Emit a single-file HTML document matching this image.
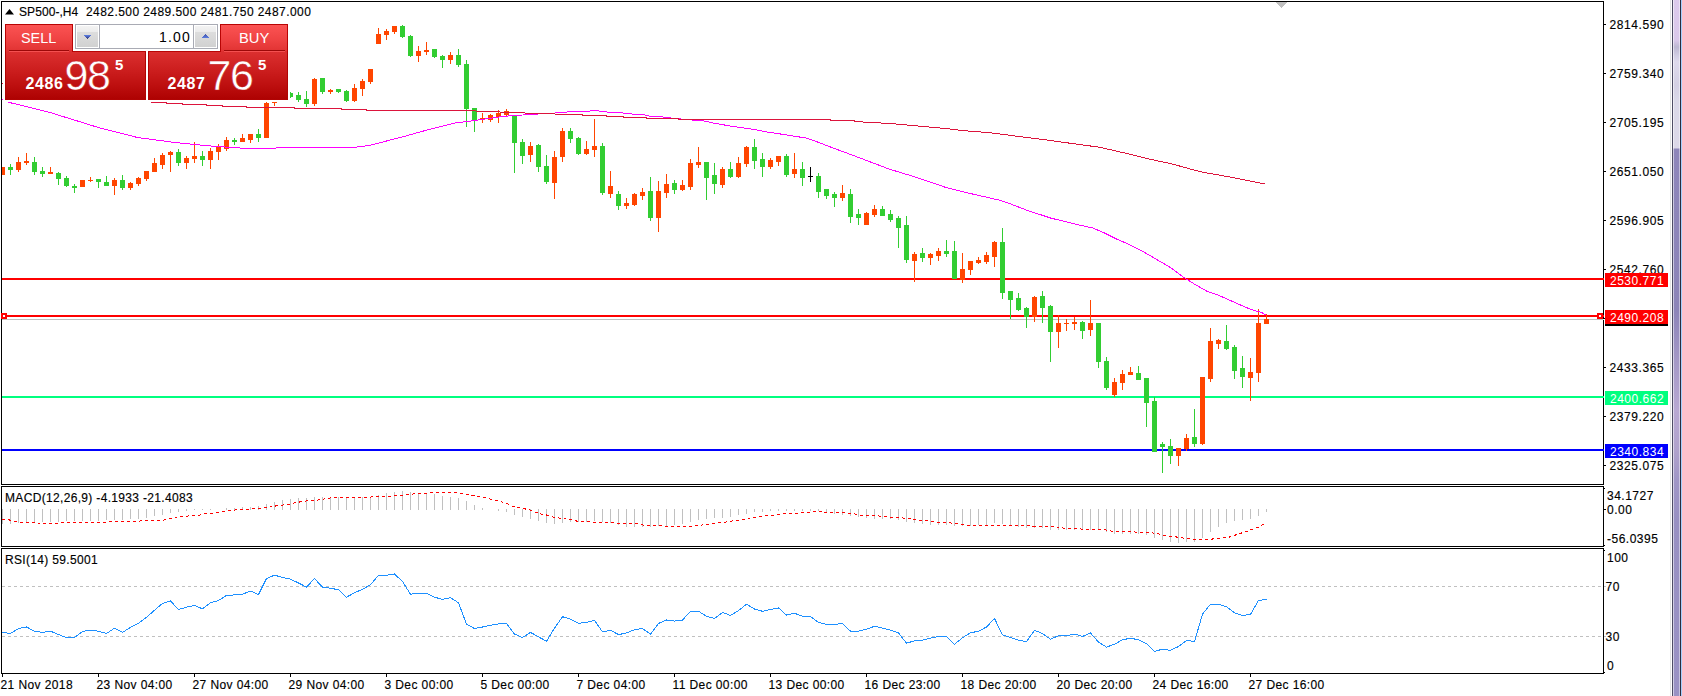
<!DOCTYPE html>
<html lang="en"><head><meta charset="utf-8"><title>SP500-,H4</title>
<style>
html,body{margin:0;padding:0;background:#fff;}
body{width:1682px;height:696px;overflow:hidden;}
#root{position:relative;width:1682px;height:696px;overflow:hidden;background:#fff;font-family:"Liberation Sans",sans-serif;}
#chart{position:absolute;left:0;top:0;}
.t{position:absolute;white-space:nowrap;color:#000;-webkit-text-stroke:0.15px #000;font-size:12px;line-height:14px;font-family:"Liberation Sans",sans-serif;}
.ttl{letter-spacing:0.35px;}
.ax{letter-spacing:0.6px;}
.ax2{letter-spacing:0.5px;}
.ind{letter-spacing:0.33px;}
.tm{letter-spacing:0.4px;}
.tag{position:absolute;left:1605px;width:63px;box-sizing:content-box;font-size:12px;letter-spacing:0.5px;text-indent:5px;white-space:nowrap;font-family:"Liberation Sans",sans-serif;}
#rborder{position:absolute;left:1670px;top:0;width:12px;height:696px;
 background:linear-gradient(to bottom,#DCCAEC 0,#DAC8EA 40px,#BDB8D2 47px,#D2CEE4 56px,#DEDAEC 62px,#D4D0E4 85px,#DAD8E8 100px,#DCD8E8 148px,#8E86BA 149px,#8C84B8 310px,#A498C6 360px,#B8A8D2 410px,#B0A2CC 450px,#A096C6 480px,#9890C2 520px,#9A92C4 696px);}
#rborder i{position:absolute;top:0;height:696px;width:1px;display:block;}
/* trade panel */
#panel{position:absolute;left:0;top:0;width:300px;height:104px;}
#panel div{position:absolute;box-sizing:border-box;}
.tab{background:linear-gradient(to bottom,#FB5353 0,#F04444 50%,#E03232 100%);border:1px solid #B80404;border-bottom:none;}
.low{background:linear-gradient(to bottom,#DC3030 0,#CC1E1E 40%,#BE1010 70%,#AE0202 100%);border:1px solid #B00404;border-top:none;}
.ltop{height:1px;background:#B80606;}
.sep{height:2px;background:linear-gradient(to bottom,#9C0808 0,#9C0808 50%,#F45050 50%,#F45050 100%);}
.btn{padding:1px;background:linear-gradient(to bottom,#F3F3F3 0,#ECECEC 27%,#DDDDDD 30%,#D1D1D1 100%) content-box,#fff;}
.pt{color:#fff;white-space:nowrap;font-family:"Liberation Sans",sans-serif;}
.sx{transform-origin:0 0;}

</style></head>
<body>
<div id="root">
<svg id="chart" width="1682" height="696" viewBox="0 0 1682 696" shape-rendering="crispEdges">
<rect x="2" y="319" width="1601" height="1" fill="#C0C0C0"/>
<rect x="2" y="278" width="1601" height="2" fill="#FF0000"/>
<rect x="2" y="315" width="1601" height="2" fill="#FF0000"/>
<rect x="2" y="396" width="1601" height="2" fill="#00FF7F"/>
<rect x="2" y="449" width="1601" height="2" fill="#0000FF"/>
<g id="candles">
<rect x="2" y="167" width="1" height="8" fill="#FF4500"/>
<rect x="2" y="167" width="3" height="8" fill="#FF4500"/>
<rect x="10" y="164" width="1" height="11" fill="#32CD32"/>
<rect x="8" y="167" width="5" height="3" fill="#32CD32"/>
<rect x="18" y="157" width="1" height="15" fill="#FF4500"/>
<rect x="16" y="162" width="5" height="8" fill="#FF4500"/>
<rect x="26" y="153" width="1" height="12" fill="#FF4500"/>
<rect x="24" y="161" width="5" height="2" fill="#FF4500"/>
<rect x="34" y="157" width="1" height="18" fill="#32CD32"/>
<rect x="32" y="162" width="5" height="10" fill="#32CD32"/>
<rect x="42" y="167" width="1" height="10" fill="#32CD32"/>
<rect x="40" y="171" width="5" height="3" fill="#32CD32"/>
<rect x="50" y="167" width="1" height="7" fill="#FF4500"/>
<rect x="48" y="172" width="5" height="2" fill="#FF4500"/>
<rect x="58" y="172" width="1" height="13" fill="#32CD32"/>
<rect x="56" y="173" width="5" height="6" fill="#32CD32"/>
<rect x="66" y="176" width="1" height="11" fill="#32CD32"/>
<rect x="64" y="178" width="5" height="8" fill="#32CD32"/>
<rect x="74" y="184" width="1" height="9" fill="#32CD32"/>
<rect x="72" y="186" width="5" height="2" fill="#32CD32"/>
<rect x="82" y="180" width="1" height="7" fill="#FF4500"/>
<rect x="80" y="180" width="5" height="7" fill="#FF4500"/>
<rect x="90" y="177" width="1" height="5" fill="#FF4500"/>
<rect x="88" y="180" width="5" height="1" fill="#FF4500"/>
<rect x="98" y="179" width="1" height="9" fill="#32CD32"/>
<rect x="96" y="179" width="5" height="3" fill="#32CD32"/>
<rect x="106" y="176" width="1" height="10" fill="#32CD32"/>
<rect x="104" y="182" width="5" height="4" fill="#32CD32"/>
<rect x="114" y="178" width="1" height="17" fill="#FF4500"/>
<rect x="112" y="180" width="5" height="6" fill="#FF4500"/>
<rect x="122" y="175" width="1" height="15" fill="#32CD32"/>
<rect x="120" y="180" width="5" height="8" fill="#32CD32"/>
<rect x="130" y="182" width="1" height="8" fill="#FF4500"/>
<rect x="128" y="183" width="5" height="5" fill="#FF4500"/>
<rect x="138" y="177" width="1" height="9" fill="#FF4500"/>
<rect x="136" y="178" width="5" height="6" fill="#FF4500"/>
<rect x="146" y="171" width="1" height="10" fill="#FF4500"/>
<rect x="144" y="171" width="5" height="8" fill="#FF4500"/>
<rect x="154" y="158" width="1" height="14" fill="#FF4500"/>
<rect x="152" y="163" width="5" height="9" fill="#FF4500"/>
<rect x="162" y="153" width="1" height="16" fill="#FF4500"/>
<rect x="160" y="155" width="5" height="10" fill="#FF4500"/>
<rect x="170" y="151" width="1" height="21" fill="#FF4500"/>
<rect x="168" y="152" width="5" height="3" fill="#FF4500"/>
<rect x="178" y="149" width="1" height="17" fill="#32CD32"/>
<rect x="176" y="152" width="5" height="11" fill="#32CD32"/>
<rect x="186" y="156" width="1" height="13" fill="#FF4500"/>
<rect x="184" y="158" width="5" height="5" fill="#FF4500"/>
<rect x="194" y="142" width="1" height="21" fill="#FF4500"/>
<rect x="192" y="156" width="5" height="3" fill="#FF4500"/>
<rect x="202" y="151" width="1" height="15" fill="#32CD32"/>
<rect x="200" y="156" width="5" height="4" fill="#32CD32"/>
<rect x="210" y="148" width="1" height="21" fill="#FF4500"/>
<rect x="208" y="151" width="5" height="9" fill="#FF4500"/>
<rect x="218" y="144" width="1" height="16" fill="#FF4500"/>
<rect x="216" y="147" width="5" height="5" fill="#FF4500"/>
<rect x="226" y="137" width="1" height="14" fill="#FF4500"/>
<rect x="224" y="140" width="5" height="9" fill="#FF4500"/>
<rect x="234" y="138" width="1" height="7" fill="#32CD32"/>
<rect x="232" y="140" width="5" height="2" fill="#32CD32"/>
<rect x="242" y="134" width="1" height="8" fill="#FF4500"/>
<rect x="240" y="138" width="5" height="4" fill="#FF4500"/>
<rect x="250" y="134" width="1" height="9" fill="#FF4500"/>
<rect x="248" y="134" width="5" height="6" fill="#FF4500"/>
<rect x="258" y="129" width="1" height="13" fill="#32CD32"/>
<rect x="256" y="134" width="5" height="4" fill="#32CD32"/>
<rect x="266" y="102" width="1" height="36" fill="#FF4500"/>
<rect x="264" y="103" width="5" height="35" fill="#FF4500"/>
<rect x="274" y="102" width="1" height="4" fill="#FF4500"/>
<rect x="272" y="102" width="5" height="1" fill="#FF4500"/>
<rect x="290" y="92" width="1" height="6" fill="#32CD32"/>
<rect x="290" y="93" width="3" height="4" fill="#32CD32"/>
<rect x="298" y="92" width="1" height="10" fill="#32CD32"/>
<rect x="296" y="95" width="5" height="5" fill="#32CD32"/>
<rect x="306" y="91" width="1" height="16" fill="#32CD32"/>
<rect x="304" y="99" width="5" height="5" fill="#32CD32"/>
<rect x="314" y="78" width="1" height="28" fill="#FF4500"/>
<rect x="312" y="79" width="5" height="25" fill="#FF4500"/>
<rect x="322" y="78" width="1" height="16" fill="#32CD32"/>
<rect x="320" y="78" width="5" height="14" fill="#32CD32"/>
<rect x="330" y="89" width="1" height="5" fill="#FF4500"/>
<rect x="328" y="90" width="5" height="2" fill="#FF4500"/>
<rect x="338" y="89" width="1" height="4" fill="#32CD32"/>
<rect x="336" y="89" width="5" height="3" fill="#32CD32"/>
<rect x="346" y="90" width="1" height="12" fill="#32CD32"/>
<rect x="344" y="91" width="5" height="10" fill="#32CD32"/>
<rect x="354" y="84" width="1" height="18" fill="#FF4500"/>
<rect x="352" y="88" width="5" height="13" fill="#FF4500"/>
<rect x="362" y="79" width="1" height="17" fill="#FF4500"/>
<rect x="360" y="81" width="5" height="8" fill="#FF4500"/>
<rect x="370" y="69" width="1" height="15" fill="#FF4500"/>
<rect x="368" y="69" width="5" height="13" fill="#FF4500"/>
<rect x="378" y="28" width="1" height="16" fill="#FF4500"/>
<rect x="376" y="34" width="5" height="10" fill="#FF4500"/>
<rect x="386" y="29" width="1" height="11" fill="#FF4500"/>
<rect x="384" y="31" width="5" height="4" fill="#FF4500"/>
<rect x="394" y="26" width="1" height="8" fill="#FF4500"/>
<rect x="392" y="26" width="5" height="6" fill="#FF4500"/>
<rect x="402" y="25" width="1" height="13" fill="#32CD32"/>
<rect x="400" y="26" width="5" height="11" fill="#32CD32"/>
<rect x="410" y="35" width="1" height="22" fill="#32CD32"/>
<rect x="408" y="36" width="5" height="20" fill="#32CD32"/>
<rect x="418" y="46" width="1" height="16" fill="#FF4500"/>
<rect x="416" y="51" width="5" height="5" fill="#FF4500"/>
<rect x="426" y="42" width="1" height="13" fill="#FF4500"/>
<rect x="424" y="50" width="5" height="2" fill="#FF4500"/>
<rect x="434" y="49" width="1" height="9" fill="#32CD32"/>
<rect x="432" y="49" width="5" height="8" fill="#32CD32"/>
<rect x="442" y="55" width="1" height="13" fill="#32CD32"/>
<rect x="440" y="56" width="5" height="4" fill="#32CD32"/>
<rect x="450" y="52" width="1" height="12" fill="#FF4500"/>
<rect x="448" y="55" width="5" height="5" fill="#FF4500"/>
<rect x="458" y="49" width="1" height="18" fill="#32CD32"/>
<rect x="456" y="55" width="5" height="10" fill="#32CD32"/>
<rect x="466" y="60" width="1" height="67" fill="#32CD32"/>
<rect x="464" y="64" width="5" height="45" fill="#32CD32"/>
<rect x="474" y="108" width="1" height="24" fill="#32CD32"/>
<rect x="472" y="108" width="5" height="12" fill="#32CD32"/>
<rect x="482" y="113" width="1" height="10" fill="#FF4500"/>
<rect x="480" y="118" width="5" height="1" fill="#FF4500"/>
<rect x="490" y="114" width="1" height="8" fill="#FF4500"/>
<rect x="488" y="115" width="5" height="5" fill="#FF4500"/>
<rect x="498" y="110" width="1" height="13" fill="#FF4500"/>
<rect x="496" y="113" width="5" height="4" fill="#FF4500"/>
<rect x="506" y="109" width="1" height="8" fill="#FF4500"/>
<rect x="504" y="111" width="5" height="4" fill="#FF4500"/>
<rect x="514" y="115" width="1" height="58" fill="#32CD32"/>
<rect x="512" y="116" width="5" height="27" fill="#32CD32"/>
<rect x="522" y="139" width="1" height="25" fill="#32CD32"/>
<rect x="520" y="142" width="5" height="14" fill="#32CD32"/>
<rect x="530" y="142" width="1" height="20" fill="#FF4500"/>
<rect x="528" y="146" width="5" height="9" fill="#FF4500"/>
<rect x="538" y="144" width="1" height="28" fill="#32CD32"/>
<rect x="536" y="145" width="5" height="22" fill="#32CD32"/>
<rect x="546" y="155" width="1" height="29" fill="#32CD32"/>
<rect x="544" y="166" width="5" height="16" fill="#32CD32"/>
<rect x="554" y="151" width="1" height="48" fill="#FF4500"/>
<rect x="552" y="157" width="5" height="26" fill="#FF4500"/>
<rect x="562" y="128" width="1" height="34" fill="#FF4500"/>
<rect x="560" y="131" width="5" height="26" fill="#FF4500"/>
<rect x="570" y="128" width="1" height="15" fill="#32CD32"/>
<rect x="568" y="131" width="5" height="8" fill="#32CD32"/>
<rect x="578" y="137" width="1" height="18" fill="#32CD32"/>
<rect x="576" y="138" width="5" height="16" fill="#32CD32"/>
<rect x="586" y="141" width="1" height="14" fill="#FF4500"/>
<rect x="584" y="149" width="5" height="5" fill="#FF4500"/>
<rect x="594" y="119" width="1" height="38" fill="#FF4500"/>
<rect x="592" y="146" width="5" height="4" fill="#FF4500"/>
<rect x="602" y="143" width="1" height="52" fill="#32CD32"/>
<rect x="600" y="146" width="5" height="47" fill="#32CD32"/>
<rect x="610" y="171" width="1" height="27" fill="#FF4500"/>
<rect x="608" y="186" width="5" height="8" fill="#FF4500"/>
<rect x="618" y="191" width="1" height="19" fill="#32CD32"/>
<rect x="616" y="194" width="5" height="12" fill="#32CD32"/>
<rect x="626" y="198" width="1" height="11" fill="#FF4500"/>
<rect x="624" y="203" width="5" height="3" fill="#FF4500"/>
<rect x="634" y="193" width="1" height="13" fill="#FF4500"/>
<rect x="632" y="194" width="5" height="11" fill="#FF4500"/>
<rect x="642" y="188" width="1" height="12" fill="#FF4500"/>
<rect x="640" y="192" width="5" height="4" fill="#FF4500"/>
<rect x="650" y="177" width="1" height="44" fill="#32CD32"/>
<rect x="648" y="191" width="5" height="27" fill="#32CD32"/>
<rect x="658" y="181" width="1" height="51" fill="#FF4500"/>
<rect x="656" y="191" width="5" height="27" fill="#FF4500"/>
<rect x="666" y="174" width="1" height="24" fill="#FF4500"/>
<rect x="664" y="184" width="5" height="9" fill="#FF4500"/>
<rect x="674" y="180" width="1" height="14" fill="#32CD32"/>
<rect x="672" y="183" width="5" height="7" fill="#32CD32"/>
<rect x="682" y="180" width="1" height="11" fill="#FF4500"/>
<rect x="680" y="185" width="5" height="5" fill="#FF4500"/>
<rect x="690" y="159" width="1" height="31" fill="#FF4500"/>
<rect x="688" y="163" width="5" height="24" fill="#FF4500"/>
<rect x="698" y="147" width="1" height="21" fill="#FF4500"/>
<rect x="696" y="162" width="5" height="3" fill="#FF4500"/>
<rect x="706" y="162" width="1" height="38" fill="#32CD32"/>
<rect x="704" y="162" width="5" height="16" fill="#32CD32"/>
<rect x="714" y="163" width="1" height="31" fill="#32CD32"/>
<rect x="712" y="175" width="5" height="9" fill="#32CD32"/>
<rect x="722" y="167" width="1" height="21" fill="#FF4500"/>
<rect x="720" y="169" width="5" height="16" fill="#FF4500"/>
<rect x="730" y="162" width="1" height="16" fill="#32CD32"/>
<rect x="728" y="169" width="5" height="8" fill="#32CD32"/>
<rect x="738" y="157" width="1" height="21" fill="#FF4500"/>
<rect x="736" y="163" width="5" height="14" fill="#FF4500"/>
<rect x="746" y="146" width="1" height="21" fill="#FF4500"/>
<rect x="744" y="147" width="5" height="17" fill="#FF4500"/>
<rect x="754" y="139" width="1" height="30" fill="#32CD32"/>
<rect x="752" y="147" width="5" height="14" fill="#32CD32"/>
<rect x="762" y="153" width="1" height="24" fill="#32CD32"/>
<rect x="760" y="159" width="5" height="8" fill="#32CD32"/>
<rect x="770" y="158" width="1" height="11" fill="#FF4500"/>
<rect x="768" y="160" width="5" height="7" fill="#FF4500"/>
<rect x="778" y="156" width="1" height="10" fill="#FF4500"/>
<rect x="776" y="156" width="5" height="6" fill="#FF4500"/>
<rect x="786" y="154" width="1" height="23" fill="#32CD32"/>
<rect x="784" y="156" width="5" height="19" fill="#32CD32"/>
<rect x="794" y="153" width="1" height="25" fill="#FF4500"/>
<rect x="792" y="169" width="5" height="5" fill="#FF4500"/>
<rect x="802" y="162" width="1" height="24" fill="#32CD32"/>
<rect x="800" y="169" width="5" height="9" fill="#32CD32"/>
<rect x="810" y="167" width="1" height="15" fill="#000000"/>
<rect x="808" y="176" width="5" height="1" fill="#000000"/>
<rect x="818" y="173" width="1" height="25" fill="#32CD32"/>
<rect x="816" y="176" width="5" height="16" fill="#32CD32"/>
<rect x="826" y="189" width="1" height="10" fill="#32CD32"/>
<rect x="824" y="189" width="5" height="7" fill="#32CD32"/>
<rect x="834" y="192" width="1" height="15" fill="#32CD32"/>
<rect x="832" y="194" width="5" height="4" fill="#32CD32"/>
<rect x="842" y="185" width="1" height="16" fill="#FF4500"/>
<rect x="840" y="193" width="5" height="5" fill="#FF4500"/>
<rect x="850" y="189" width="1" height="34" fill="#32CD32"/>
<rect x="848" y="194" width="5" height="23" fill="#32CD32"/>
<rect x="858" y="209" width="1" height="16" fill="#32CD32"/>
<rect x="856" y="214" width="5" height="4" fill="#32CD32"/>
<rect x="866" y="212" width="1" height="13" fill="#FF4500"/>
<rect x="864" y="213" width="5" height="12" fill="#FF4500"/>
<rect x="874" y="205" width="1" height="12" fill="#FF4500"/>
<rect x="872" y="209" width="5" height="6" fill="#FF4500"/>
<rect x="882" y="206" width="1" height="10" fill="#32CD32"/>
<rect x="880" y="209" width="5" height="7" fill="#32CD32"/>
<rect x="890" y="210" width="1" height="12" fill="#32CD32"/>
<rect x="888" y="214" width="5" height="6" fill="#32CD32"/>
<rect x="898" y="216" width="1" height="32" fill="#32CD32"/>
<rect x="896" y="218" width="5" height="10" fill="#32CD32"/>
<rect x="906" y="216" width="1" height="47" fill="#32CD32"/>
<rect x="904" y="225" width="5" height="35" fill="#32CD32"/>
<rect x="914" y="252" width="1" height="30" fill="#FF4500"/>
<rect x="912" y="254" width="5" height="7" fill="#FF4500"/>
<rect x="922" y="248" width="1" height="14" fill="#32CD32"/>
<rect x="920" y="253" width="5" height="5" fill="#32CD32"/>
<rect x="930" y="253" width="1" height="12" fill="#FF4500"/>
<rect x="928" y="254" width="5" height="4" fill="#FF4500"/>
<rect x="938" y="248" width="1" height="13" fill="#FF4500"/>
<rect x="936" y="251" width="5" height="5" fill="#FF4500"/>
<rect x="946" y="240" width="1" height="17" fill="#32CD32"/>
<rect x="944" y="251" width="5" height="3" fill="#32CD32"/>
<rect x="954" y="241" width="1" height="38" fill="#32CD32"/>
<rect x="952" y="251" width="5" height="28" fill="#32CD32"/>
<rect x="962" y="253" width="1" height="30" fill="#FF4500"/>
<rect x="960" y="269" width="5" height="11" fill="#FF4500"/>
<rect x="970" y="261" width="1" height="14" fill="#FF4500"/>
<rect x="968" y="261" width="5" height="9" fill="#FF4500"/>
<rect x="978" y="257" width="1" height="7" fill="#FF4500"/>
<rect x="976" y="260" width="5" height="3" fill="#FF4500"/>
<rect x="986" y="252" width="1" height="12" fill="#FF4500"/>
<rect x="984" y="255" width="5" height="7" fill="#FF4500"/>
<rect x="994" y="241" width="1" height="26" fill="#FF4500"/>
<rect x="992" y="242" width="5" height="15" fill="#FF4500"/>
<rect x="1002" y="228" width="1" height="71" fill="#32CD32"/>
<rect x="1000" y="242" width="5" height="51" fill="#32CD32"/>
<rect x="1010" y="291" width="1" height="28" fill="#32CD32"/>
<rect x="1008" y="291" width="5" height="9" fill="#32CD32"/>
<rect x="1018" y="293" width="1" height="18" fill="#32CD32"/>
<rect x="1016" y="298" width="5" height="12" fill="#32CD32"/>
<rect x="1026" y="307" width="1" height="21" fill="#32CD32"/>
<rect x="1024" y="308" width="5" height="9" fill="#32CD32"/>
<rect x="1034" y="296" width="1" height="26" fill="#FF4500"/>
<rect x="1032" y="297" width="5" height="20" fill="#FF4500"/>
<rect x="1042" y="291" width="1" height="32" fill="#32CD32"/>
<rect x="1040" y="296" width="5" height="12" fill="#32CD32"/>
<rect x="1050" y="305" width="1" height="57" fill="#32CD32"/>
<rect x="1048" y="306" width="5" height="26" fill="#32CD32"/>
<rect x="1058" y="315" width="1" height="33" fill="#FF4500"/>
<rect x="1056" y="323" width="5" height="9" fill="#FF4500"/>
<rect x="1066" y="319" width="1" height="12" fill="#FF4500"/>
<rect x="1064" y="323" width="5" height="1" fill="#FF4500"/>
<rect x="1074" y="317" width="1" height="13" fill="#FF4500"/>
<rect x="1072" y="322" width="5" height="2" fill="#FF4500"/>
<rect x="1082" y="321" width="1" height="18" fill="#32CD32"/>
<rect x="1080" y="322" width="5" height="9" fill="#32CD32"/>
<rect x="1090" y="300" width="1" height="36" fill="#FF4500"/>
<rect x="1088" y="323" width="5" height="7" fill="#FF4500"/>
<rect x="1098" y="323" width="1" height="45" fill="#32CD32"/>
<rect x="1096" y="323" width="5" height="39" fill="#32CD32"/>
<rect x="1106" y="357" width="1" height="33" fill="#32CD32"/>
<rect x="1104" y="361" width="5" height="27" fill="#32CD32"/>
<rect x="1114" y="378" width="1" height="19" fill="#FF4500"/>
<rect x="1112" y="382" width="5" height="13" fill="#FF4500"/>
<rect x="1122" y="370" width="1" height="20" fill="#FF4500"/>
<rect x="1120" y="374" width="5" height="9" fill="#FF4500"/>
<rect x="1130" y="367" width="1" height="8" fill="#FF4500"/>
<rect x="1128" y="372" width="5" height="3" fill="#FF4500"/>
<rect x="1138" y="366" width="1" height="14" fill="#32CD32"/>
<rect x="1136" y="373" width="5" height="7" fill="#32CD32"/>
<rect x="1146" y="378" width="1" height="49" fill="#32CD32"/>
<rect x="1144" y="378" width="5" height="25" fill="#32CD32"/>
<rect x="1154" y="397" width="1" height="55" fill="#32CD32"/>
<rect x="1152" y="401" width="5" height="51" fill="#32CD32"/>
<rect x="1162" y="442" width="1" height="31" fill="#32CD32"/>
<rect x="1160" y="444" width="5" height="3" fill="#32CD32"/>
<rect x="1170" y="439" width="1" height="25" fill="#32CD32"/>
<rect x="1168" y="446" width="5" height="10" fill="#32CD32"/>
<rect x="1178" y="448" width="1" height="18" fill="#FF4500"/>
<rect x="1176" y="448" width="5" height="8" fill="#FF4500"/>
<rect x="1186" y="434" width="1" height="17" fill="#FF4500"/>
<rect x="1184" y="438" width="5" height="11" fill="#FF4500"/>
<rect x="1194" y="409" width="1" height="38" fill="#32CD32"/>
<rect x="1192" y="437" width="5" height="7" fill="#32CD32"/>
<rect x="1202" y="377" width="1" height="68" fill="#FF4500"/>
<rect x="1200" y="377" width="5" height="67" fill="#FF4500"/>
<rect x="1210" y="328" width="1" height="54" fill="#FF4500"/>
<rect x="1208" y="341" width="5" height="38" fill="#FF4500"/>
<rect x="1218" y="339" width="1" height="10" fill="#FF4500"/>
<rect x="1216" y="340" width="5" height="4" fill="#FF4500"/>
<rect x="1226" y="325" width="1" height="25" fill="#32CD32"/>
<rect x="1224" y="341" width="5" height="8" fill="#32CD32"/>
<rect x="1234" y="345" width="1" height="34" fill="#32CD32"/>
<rect x="1232" y="347" width="5" height="24" fill="#32CD32"/>
<rect x="1242" y="356" width="1" height="32" fill="#32CD32"/>
<rect x="1240" y="368" width="5" height="9" fill="#32CD32"/>
<rect x="1250" y="358" width="1" height="43" fill="#FF4500"/>
<rect x="1248" y="372" width="5" height="6" fill="#FF4500"/>
<rect x="1258" y="309" width="1" height="73" fill="#FF4500"/>
<rect x="1256" y="323" width="5" height="50" fill="#FF4500"/>
<rect x="1266" y="314" width="1" height="10" fill="#FF4500"/>
<rect x="1264" y="319" width="5" height="5" fill="#FF4500"/>
</g>
<polyline points="2.5,99.5 9.5,102.5 50.0,112.5 100.0,128.0 137.5,137.5 175.0,142.5 212.5,146.2 240.0,148.0 276.0,148.0 278.0,147.0 357.0,147.0 370.0,145.3 405.0,136.2 430.0,129.2 455.0,123.0 475.0,120.5 505.0,116.2 530.0,114.5 555.0,113.0 575.0,111.3 589.0,111.5 591.0,110.5 598.0,110.5 600.0,111.5 606.0,111.5 608.0,112.5 622.0,112.5 624.0,113.5 631.0,113.5 633.0,114.5 644.0,114.5 646.0,115.5 648.0,115.5 650.0,116.5 662.0,116.5 664.0,117.5 670.0,117.5 672.0,118.5 690.0,119.5 695.0,120.5 703.0,120.5 705.0,121.5 708.0,121.5 710.0,122.5 716.0,123.5 722.0,124.5 727.0,125.5 733.0,126.5 740.0,127.5 748.0,128.5 756.0,129.8 765.6,131.8 784.6,134.6 805.6,138.0 813.0,140.3 832.0,147.6 851.0,154.6 870.0,161.8 889.0,169.0 908.0,174.8 927.0,180.9 946.0,187.5 965.0,192.3 984.0,196.6 1000.0,200.3 1008.0,203.0 1026.0,209.9 1050.5,218.0 1074.6,224.0 1092.7,228.0 1104.8,233.1 1116.9,239.2 1128.9,244.3 1141.0,250.3 1153.0,257.3 1171.0,267.8 1183.0,276.9 1195.0,284.4 1207.0,291.3 1219.4,295.6 1231.5,301.0 1243.6,306.4 1252.6,310.0 1261.7,312.5 1266.5,315.5" fill="none" stroke="#FF00FF" stroke-width="1" />
<polyline points="151.0,102.5 166.0,102.5 167.0,103.5 182.0,103.5 183.0,104.5 206.0,104.5 207.0,105.5 222.0,105.5 223.0,106.5 246.0,106.5 247.0,107.5 294.0,107.5 295.0,108.5 341.0,108.5 342.0,109.5 366.0,109.5 367.0,110.5 465.0,110.5 480.0,111.2 530.0,113.2 570.0,114.5 582.0,114.5 583.0,115.5 606.0,115.5 607.0,116.5 623.0,116.5 624.0,117.5 646.0,117.5 647.0,118.5 678.0,118.5 679.0,119.5 830.0,119.5 831.0,120.5 854.0,120.5 855.0,121.5 870.0,122.5 889.0,123.4 908.0,125.1 927.0,126.8 946.0,128.5 965.0,130.8 990.0,132.7 1020.0,136.6 1050.5,140.5 1080.7,144.7 1098.8,147.1 1123.0,152.6 1147.0,158.6 1171.0,163.7 1201.0,171.9 1231.5,177.3 1265.3,184.0" fill="none" stroke="#DC143C" stroke-width="1" />
<rect x="2" y="83" width="1" height="1" fill="#DC143C"/>
<rect x="3" y="22" width="287" height="80" fill="#fff"/>
<rect x="2" y="509" width="1" height="15" fill="#C0C0C0"/>
<rect x="10" y="509" width="1" height="15" fill="#C0C0C0"/>
<rect x="18" y="509" width="1" height="14" fill="#C0C0C0"/>
<rect x="26" y="509" width="1" height="13" fill="#C0C0C0"/>
<rect x="34" y="509" width="1" height="13" fill="#C0C0C0"/>
<rect x="42" y="509" width="1" height="13" fill="#C0C0C0"/>
<rect x="50" y="509" width="1" height="13" fill="#C0C0C0"/>
<rect x="58" y="509" width="1" height="13" fill="#C0C0C0"/>
<rect x="66" y="509" width="1" height="12" fill="#C0C0C0"/>
<rect x="74" y="509" width="1" height="12" fill="#C0C0C0"/>
<rect x="82" y="509" width="1" height="12" fill="#C0C0C0"/>
<rect x="90" y="509" width="1" height="12" fill="#C0C0C0"/>
<rect x="98" y="509" width="1" height="12" fill="#C0C0C0"/>
<rect x="106" y="509" width="1" height="11" fill="#C0C0C0"/>
<rect x="114" y="509" width="1" height="11" fill="#C0C0C0"/>
<rect x="122" y="509" width="1" height="11" fill="#C0C0C0"/>
<rect x="130" y="509" width="1" height="10" fill="#C0C0C0"/>
<rect x="138" y="509" width="1" height="10" fill="#C0C0C0"/>
<rect x="146" y="509" width="1" height="9" fill="#C0C0C0"/>
<rect x="154" y="509" width="1" height="7" fill="#C0C0C0"/>
<rect x="162" y="509" width="1" height="6" fill="#C0C0C0"/>
<rect x="170" y="509" width="1" height="4" fill="#C0C0C0"/>
<rect x="178" y="509" width="1" height="3" fill="#C0C0C0"/>
<rect x="186" y="509" width="1" height="2" fill="#C0C0C0"/>
<rect x="194" y="509" width="1" height="1" fill="#C0C0C0"/>
<rect x="202" y="509" width="1" height="1" fill="#C0C0C0"/>
<rect x="210" y="509" width="1" height="1" fill="#C0C0C0"/>
<rect x="226" y="508" width="1" height="2" fill="#C0C0C0"/>
<rect x="234" y="508" width="1" height="2" fill="#C0C0C0"/>
<rect x="242" y="507" width="1" height="3" fill="#C0C0C0"/>
<rect x="250" y="507" width="1" height="3" fill="#C0C0C0"/>
<rect x="258" y="506" width="1" height="4" fill="#C0C0C0"/>
<rect x="266" y="504" width="1" height="6" fill="#C0C0C0"/>
<rect x="274" y="502" width="1" height="8" fill="#C0C0C0"/>
<rect x="282" y="500" width="1" height="10" fill="#C0C0C0"/>
<rect x="290" y="499" width="1" height="11" fill="#C0C0C0"/>
<rect x="298" y="498" width="1" height="12" fill="#C0C0C0"/>
<rect x="306" y="498" width="1" height="12" fill="#C0C0C0"/>
<rect x="314" y="497" width="1" height="13" fill="#C0C0C0"/>
<rect x="322" y="497" width="1" height="13" fill="#C0C0C0"/>
<rect x="330" y="497" width="1" height="13" fill="#C0C0C0"/>
<rect x="338" y="497" width="1" height="13" fill="#C0C0C0"/>
<rect x="346" y="498" width="1" height="12" fill="#C0C0C0"/>
<rect x="354" y="498" width="1" height="12" fill="#C0C0C0"/>
<rect x="362" y="497" width="1" height="13" fill="#C0C0C0"/>
<rect x="370" y="497" width="1" height="13" fill="#C0C0C0"/>
<rect x="378" y="495" width="1" height="15" fill="#C0C0C0"/>
<rect x="386" y="493" width="1" height="17" fill="#C0C0C0"/>
<rect x="394" y="492" width="1" height="18" fill="#C0C0C0"/>
<rect x="402" y="491" width="1" height="19" fill="#C0C0C0"/>
<rect x="410" y="492" width="1" height="18" fill="#C0C0C0"/>
<rect x="418" y="493" width="1" height="17" fill="#C0C0C0"/>
<rect x="426" y="493" width="1" height="17" fill="#C0C0C0"/>
<rect x="434" y="494" width="1" height="16" fill="#C0C0C0"/>
<rect x="442" y="496" width="1" height="14" fill="#C0C0C0"/>
<rect x="450" y="497" width="1" height="13" fill="#C0C0C0"/>
<rect x="458" y="498" width="1" height="12" fill="#C0C0C0"/>
<rect x="466" y="501" width="1" height="9" fill="#C0C0C0"/>
<rect x="474" y="505" width="1" height="5" fill="#C0C0C0"/>
<rect x="482" y="508" width="1" height="2" fill="#C0C0C0"/>
<rect x="498" y="509" width="1" height="2" fill="#C0C0C0"/>
<rect x="506" y="509" width="1" height="3" fill="#C0C0C0"/>
<rect x="514" y="509" width="1" height="6" fill="#C0C0C0"/>
<rect x="522" y="509" width="1" height="8" fill="#C0C0C0"/>
<rect x="530" y="509" width="1" height="10" fill="#C0C0C0"/>
<rect x="538" y="509" width="1" height="12" fill="#C0C0C0"/>
<rect x="546" y="509" width="1" height="14" fill="#C0C0C0"/>
<rect x="554" y="509" width="1" height="15" fill="#C0C0C0"/>
<rect x="562" y="509" width="1" height="14" fill="#C0C0C0"/>
<rect x="570" y="509" width="1" height="13" fill="#C0C0C0"/>
<rect x="578" y="509" width="1" height="13" fill="#C0C0C0"/>
<rect x="586" y="509" width="1" height="13" fill="#C0C0C0"/>
<rect x="594" y="509" width="1" height="12" fill="#C0C0C0"/>
<rect x="602" y="509" width="1" height="13" fill="#C0C0C0"/>
<rect x="610" y="509" width="1" height="14" fill="#C0C0C0"/>
<rect x="618" y="509" width="1" height="16" fill="#C0C0C0"/>
<rect x="626" y="509" width="1" height="18" fill="#C0C0C0"/>
<rect x="634" y="509" width="1" height="18" fill="#C0C0C0"/>
<rect x="642" y="509" width="1" height="18" fill="#C0C0C0"/>
<rect x="650" y="509" width="1" height="18" fill="#C0C0C0"/>
<rect x="658" y="509" width="1" height="17" fill="#C0C0C0"/>
<rect x="666" y="509" width="1" height="17" fill="#C0C0C0"/>
<rect x="674" y="509" width="1" height="16" fill="#C0C0C0"/>
<rect x="682" y="509" width="1" height="15" fill="#C0C0C0"/>
<rect x="690" y="509" width="1" height="13" fill="#C0C0C0"/>
<rect x="698" y="509" width="1" height="11" fill="#C0C0C0"/>
<rect x="706" y="509" width="1" height="10" fill="#C0C0C0"/>
<rect x="714" y="509" width="1" height="9" fill="#C0C0C0"/>
<rect x="722" y="509" width="1" height="9" fill="#C0C0C0"/>
<rect x="730" y="509" width="1" height="8" fill="#C0C0C0"/>
<rect x="738" y="509" width="1" height="6" fill="#C0C0C0"/>
<rect x="746" y="509" width="1" height="5" fill="#C0C0C0"/>
<rect x="754" y="509" width="1" height="3" fill="#C0C0C0"/>
<rect x="762" y="509" width="1" height="3" fill="#C0C0C0"/>
<rect x="770" y="509" width="1" height="2" fill="#C0C0C0"/>
<rect x="778" y="509" width="1" height="2" fill="#C0C0C0"/>
<rect x="786" y="509" width="1" height="2" fill="#C0C0C0"/>
<rect x="794" y="509" width="1" height="2" fill="#C0C0C0"/>
<rect x="802" y="509" width="1" height="2" fill="#C0C0C0"/>
<rect x="810" y="509" width="1" height="2" fill="#C0C0C0"/>
<rect x="818" y="509" width="1" height="2" fill="#C0C0C0"/>
<rect x="826" y="509" width="1" height="3" fill="#C0C0C0"/>
<rect x="834" y="509" width="1" height="5" fill="#C0C0C0"/>
<rect x="842" y="509" width="1" height="6" fill="#C0C0C0"/>
<rect x="850" y="509" width="1" height="7" fill="#C0C0C0"/>
<rect x="858" y="509" width="1" height="8" fill="#C0C0C0"/>
<rect x="866" y="509" width="1" height="9" fill="#C0C0C0"/>
<rect x="874" y="509" width="1" height="10" fill="#C0C0C0"/>
<rect x="882" y="509" width="1" height="10" fill="#C0C0C0"/>
<rect x="890" y="509" width="1" height="10" fill="#C0C0C0"/>
<rect x="898" y="509" width="1" height="11" fill="#C0C0C0"/>
<rect x="906" y="509" width="1" height="13" fill="#C0C0C0"/>
<rect x="914" y="509" width="1" height="14" fill="#C0C0C0"/>
<rect x="922" y="509" width="1" height="15" fill="#C0C0C0"/>
<rect x="930" y="509" width="1" height="16" fill="#C0C0C0"/>
<rect x="938" y="509" width="1" height="16" fill="#C0C0C0"/>
<rect x="946" y="509" width="1" height="16" fill="#C0C0C0"/>
<rect x="954" y="509" width="1" height="17" fill="#C0C0C0"/>
<rect x="962" y="509" width="1" height="17" fill="#C0C0C0"/>
<rect x="970" y="509" width="1" height="17" fill="#C0C0C0"/>
<rect x="978" y="509" width="1" height="16" fill="#C0C0C0"/>
<rect x="986" y="509" width="1" height="16" fill="#C0C0C0"/>
<rect x="994" y="509" width="1" height="14" fill="#C0C0C0"/>
<rect x="1002" y="509" width="1" height="15" fill="#C0C0C0"/>
<rect x="1010" y="509" width="1" height="16" fill="#C0C0C0"/>
<rect x="1018" y="509" width="1" height="18" fill="#C0C0C0"/>
<rect x="1026" y="509" width="1" height="19" fill="#C0C0C0"/>
<rect x="1034" y="509" width="1" height="19" fill="#C0C0C0"/>
<rect x="1042" y="509" width="1" height="19" fill="#C0C0C0"/>
<rect x="1050" y="509" width="1" height="21" fill="#C0C0C0"/>
<rect x="1058" y="509" width="1" height="21" fill="#C0C0C0"/>
<rect x="1066" y="509" width="1" height="21" fill="#C0C0C0"/>
<rect x="1074" y="509" width="1" height="21" fill="#C0C0C0"/>
<rect x="1082" y="509" width="1" height="21" fill="#C0C0C0"/>
<rect x="1090" y="509" width="1" height="21" fill="#C0C0C0"/>
<rect x="1098" y="509" width="1" height="21" fill="#C0C0C0"/>
<rect x="1106" y="509" width="1" height="23" fill="#C0C0C0"/>
<rect x="1114" y="509" width="1" height="25" fill="#C0C0C0"/>
<rect x="1122" y="509" width="1" height="25" fill="#C0C0C0"/>
<rect x="1130" y="509" width="1" height="25" fill="#C0C0C0"/>
<rect x="1138" y="509" width="1" height="25" fill="#C0C0C0"/>
<rect x="1146" y="509" width="1" height="26" fill="#C0C0C0"/>
<rect x="1154" y="509" width="1" height="29" fill="#C0C0C0"/>
<rect x="1162" y="509" width="1" height="31" fill="#C0C0C0"/>
<rect x="1170" y="509" width="1" height="33" fill="#C0C0C0"/>
<rect x="1178" y="509" width="1" height="34" fill="#C0C0C0"/>
<rect x="1186" y="509" width="1" height="33" fill="#C0C0C0"/>
<rect x="1194" y="509" width="1" height="33" fill="#C0C0C0"/>
<rect x="1202" y="509" width="1" height="29" fill="#C0C0C0"/>
<rect x="1210" y="509" width="1" height="23" fill="#C0C0C0"/>
<rect x="1218" y="509" width="1" height="18" fill="#C0C0C0"/>
<rect x="1226" y="509" width="1" height="14" fill="#C0C0C0"/>
<rect x="1234" y="509" width="1" height="12" fill="#C0C0C0"/>
<rect x="1242" y="509" width="1" height="11" fill="#C0C0C0"/>
<rect x="1250" y="509" width="1" height="10" fill="#C0C0C0"/>
<rect x="1258" y="509" width="1" height="7" fill="#C0C0C0"/>
<rect x="1266" y="509" width="1" height="3" fill="#C0C0C0"/>
<polyline points="2.0,519.5 8.0,519.5 14.0,521.5 18.0,522.0 35.0,522.0 40.0,523.5 58.0,523.5 62.0,522.5 106.0,522.5 110.0,521.5 138.0,521.5 142.0,520.5 146.0,520.0 164.0,520.0 168.0,518.5 173.0,518.4 177.0,517.0 186.0,516.6 192.0,515.0 200.0,515.0 205.0,513.3 213.0,513.3 218.0,512.4 225.0,511.4 231.0,510.4 237.0,509.8 242.0,509.3 250.0,509.3 254.0,508.4 262.0,508.4 266.0,507.4 268.0,507.4 272.0,506.4 274.0,506.4 278.0,505.3 281.0,505.3 284.0,504.8 291.0,504.2 296.0,502.4 298.0,502.4 302.0,501.3 304.0,501.3 309.0,500.6 314.0,500.4 316.0,500.4 320.0,499.5 322.0,499.5 326.0,498.4 328.0,498.4 333.0,497.6 338.0,497.3 370.0,497.3 374.0,496.4 389.0,496.4 393.0,495.5 401.0,495.5 405.0,494.8 410.0,494.3 412.0,494.3 416.0,493.3 425.0,493.3 429.0,492.7 434.0,492.4 436.0,492.4 455.0,492.4 459.0,493.3 461.0,493.3 464.0,494.3 467.0,494.3 470.0,495.0 472.5,495.4 476.0,496.3 479.0,496.3 482.0,497.3 485.0,497.3 488.0,498.4 491.0,499.3 494.0,500.4 497.0,500.4 500.0,501.4 503.0,502.3 506.0,503.3 509.0,504.3 512.0,506.0 515.0,506.7 518.0,507.3 521.0,507.3 524.0,508.7 527.0,509.3 530.0,510.0 533.0,511.0 536.0,512.4 539.0,513.3 542.0,514.4 545.0,514.4 548.0,515.7 551.0,516.4 554.0,517.3 557.0,517.3 560.0,518.4 563.0,518.4 566.0,518.9 569.0,519.7 572.0,520.0 575.0,520.7 578.0,521.3 587.0,521.3 590.0,521.6 593.0,522.4 596.0,522.4 612.0,522.4 614.0,522.9 617.0,523.6 620.0,523.6 636.0,523.6 638.0,523.7 641.0,524.4 644.0,525.3 654.0,525.3 656.0,525.6 659.0,525.6 662.0,526.0 665.0,526.6 692.0,526.6 694.0,526.0 698.0,525.3 701.0,525.3 705.0,524.4 707.0,524.4 711.0,523.6 713.0,523.6 717.0,523.0 719.0,522.6 722.0,522.4 725.0,522.4 728.0,521.3 731.0,521.3 734.0,520.4 737.0,520.4 740.0,520.0 743.0,519.3 746.0,519.3 749.0,518.4 752.0,517.3 755.0,517.3 758.0,516.4 761.0,516.4 764.0,516.2 767.0,515.3 773.0,515.3 776.0,514.4 779.0,514.4 782.0,513.3 797.0,513.3 800.0,512.4 809.0,512.4 812.0,512.2 815.0,511.3 821.0,511.3 824.0,512.4 844.0,512.4 848.0,513.3 851.0,513.3 854.0,513.6 856.0,514.4 859.0,515.0 874.0,515.0 878.0,515.3 880.0,516.4 886.0,516.4 890.0,517.3 899.0,517.3 903.0,518.0 908.0,518.4 911.0,518.4 914.0,519.3 917.0,519.3 920.0,520.4 923.0,520.4 927.0,520.8 932.0,521.3 935.0,521.3 938.0,522.4 947.0,522.4 951.0,523.0 956.0,523.3 959.0,523.3 962.0,524.4 965.0,524.4 968.0,525.3 1030.0,525.3 1034.0,526.4 1055.0,526.4 1058.0,527.3 1061.0,527.3 1064.0,528.2 1078.0,528.2 1082.0,529.3 1103.0,529.4 1107.0,530.3 1109.0,530.3 1112.0,531.4 1133.0,531.4 1136.0,532.3 1151.0,532.3 1154.0,533.4 1157.0,533.4 1161.0,534.8 1163.0,535.3 1167.0,536.0 1172.0,536.6 1175.0,536.6 1178.0,537.4 1181.0,537.4 1184.0,538.3 1187.0,538.3 1191.0,539.0 1195.0,539.4 1211.0,539.4 1214.0,538.6 1217.0,538.6 1220.0,538.3 1222.0,538.3 1226.0,537.3 1229.0,537.3 1232.0,535.4 1235.0,535.4 1238.0,533.5 1241.0,533.5 1244.0,531.3 1247.0,531.3 1250.0,529.3 1253.0,529.3 1256.0,527.4 1259.0,527.4 1262.0,524.8 1265.0,524.3" fill="none" stroke="#FF0000" stroke-width="1" stroke-dasharray="3 3"/>
<line x1="2" y1="586.5" x2="1603" y2="586.5" stroke="#C0C0C0" stroke-width="1" stroke-dasharray="3 3"/>
<line x1="2" y1="636.5" x2="1603" y2="636.5" stroke="#C0C0C0" stroke-width="1" stroke-dasharray="3 3"/>
<polyline points="2.5,632.4 10.5,633.5 18.5,628.5 26.5,627.0 34.5,631.2 42.5,632.4 50.5,631.2 58.5,634.6 66.5,637.5 74.5,637.5 82.5,631.5 90.5,630.1 98.5,631.2 106.5,633.5 114.5,628.1 122.5,632.4 130.5,627.4 138.5,623.4 146.5,617.3 154.5,610.2 162.5,603.4 170.5,601.0 178.5,609.5 186.5,607.2 194.5,605.5 202.5,608.8 210.5,602.8 218.5,600.5 226.5,595.4 234.5,594.9 242.5,594.2 250.5,591.1 258.5,594.5 266.5,578.6 274.5,575.2 282.5,577.4 290.5,579.2 298.5,583.0 306.5,587.1 314.5,578.6 322.5,587.1 330.5,588.2 338.5,589.8 346.5,597.2 354.5,592.7 362.5,589.3 370.5,584.8 378.5,575.2 386.5,575.2 394.5,574.0 402.5,581.5 410.5,594.2 418.5,593.3 426.5,593.3 434.5,597.2 442.5,599.4 450.5,597.6 458.5,602.8 466.5,624.0 474.5,628.5 482.5,627.0 490.5,625.2 498.5,624.0 506.5,623.4 514.5,634.1 522.5,637.5 530.5,632.4 538.5,636.8 546.5,641.3 554.5,628.1 562.5,616.7 570.5,619.1 578.5,623.4 586.5,622.3 594.5,620.3 602.5,631.9 610.5,630.3 618.5,634.6 626.5,633.0 634.5,629.7 642.5,628.5 650.5,634.1 658.5,623.4 666.5,620.0 674.5,621.1 682.5,620.0 690.5,611.3 698.5,611.3 706.5,616.2 714.5,618.5 722.5,612.4 730.5,615.5 738.5,610.6 746.5,604.3 754.5,609.0 762.5,611.3 770.5,609.5 778.5,607.9 786.5,615.1 794.5,613.3 802.5,616.2 810.5,616.7 818.5,622.3 826.5,624.5 834.5,624.5 842.5,623.4 850.5,631.2 858.5,631.2 866.5,629.2 874.5,626.3 882.5,628.1 890.5,630.1 898.5,633.0 906.5,643.1 914.5,640.9 922.5,640.2 930.5,638.2 938.5,636.4 946.5,636.4 954.5,644.2 962.5,637.8 970.5,632.8 978.5,631.2 986.5,627.0 994.5,618.5 1002.5,634.8 1010.5,637.5 1018.5,640.2 1026.5,641.5 1034.5,630.3 1042.5,633.5 1050.5,639.3 1058.5,635.7 1066.5,635.7 1074.5,634.1 1082.5,636.4 1090.5,633.0 1098.5,642.0 1106.5,647.1 1114.5,644.2 1122.5,639.8 1130.5,638.2 1138.5,639.8 1146.5,643.8 1154.5,651.4 1162.5,649.2 1170.5,650.3 1178.5,646.5 1186.5,640.4 1194.5,641.5 1202.5,614.0 1210.5,604.3 1218.5,604.3 1226.5,606.6 1234.5,612.9 1242.5,615.5 1250.5,614.4 1258.5,600.5 1266.5,599.4" fill="none" stroke="#1E90FF" stroke-width="1" />
<rect x="1" y="1" width="1603" height="1" fill="#000"/>
<rect x="1" y="1" width="1" height="484" fill="#000"/>
<rect x="1603" y="1" width="1" height="484" fill="#000"/>
<rect x="1" y="484" width="1603" height="1" fill="#000"/>
<rect x="1" y="486" width="1603" height="1" fill="#000"/>
<rect x="1" y="486" width="1" height="61" fill="#000"/>
<rect x="1603" y="486" width="1" height="61" fill="#000"/>
<rect x="1" y="546" width="1603" height="1" fill="#000"/>
<rect x="1" y="548" width="1603" height="1" fill="#000"/>
<rect x="1" y="548" width="1" height="126" fill="#000"/>
<rect x="1603" y="548" width="1" height="126" fill="#000"/>
<rect x="1" y="673" width="1603" height="1" fill="#000"/>
<rect x="1" y="313" width="6" height="6" fill="#FF0000"/>
<rect x="3" y="315" width="2" height="2" fill="#fff"/>
<rect x="1597" y="313" width="6" height="6" fill="#FF0000"/>
<rect x="1599" y="315" width="2" height="2" fill="#fff"/>
<rect x="1603" y="278" width="1" height="2" fill="#FF0000"/>
<rect x="1603" y="315" width="1" height="2" fill="#FF0000"/>
<rect x="1603" y="396" width="1" height="2" fill="#00FF7F"/>
<rect x="1603" y="449" width="1" height="2" fill="#0000FF"/>
<rect x="1604" y="24" width="2" height="1" fill="#000"/>
<rect x="1604" y="73" width="2" height="1" fill="#000"/>
<rect x="1604" y="122" width="2" height="1" fill="#000"/>
<rect x="1604" y="171" width="2" height="1" fill="#000"/>
<rect x="1604" y="220" width="2" height="1" fill="#000"/>
<rect x="1604" y="269" width="2" height="1" fill="#000"/>
<rect x="1604" y="367" width="2" height="1" fill="#000"/>
<rect x="1604" y="416" width="2" height="1" fill="#000"/>
<rect x="1604" y="465" width="2" height="1" fill="#000"/>
<rect x="1604" y="509" width="2" height="1" fill="#000"/>
<rect x="1604" y="318" width="1" height="1" fill="#000"/>
<rect x="1603" y="319" width="1" height="1" fill="#E8E8E8"/>
<rect x="1604" y="488" width="1" height="1" fill="#000"/>
<rect x="1604" y="545" width="1" height="1" fill="#000"/>
<rect x="1604" y="550" width="1" height="1" fill="#000"/>
<rect x="1604" y="672" width="1" height="1" fill="#000"/>
<rect x="1604" y="586" width="2" height="1" fill="#C0C0C0"/>
<rect x="1604" y="636" width="2" height="1" fill="#C0C0C0"/>
<rect x="2" y="674" width="1" height="3" fill="#000"/>
<rect x="98" y="674" width="1" height="3" fill="#000"/>
<rect x="194" y="674" width="1" height="3" fill="#000"/>
<rect x="290" y="674" width="1" height="3" fill="#000"/>
<rect x="386" y="674" width="1" height="3" fill="#000"/>
<rect x="482" y="674" width="1" height="3" fill="#000"/>
<rect x="578" y="674" width="1" height="3" fill="#000"/>
<rect x="674" y="674" width="1" height="3" fill="#000"/>
<rect x="770" y="674" width="1" height="3" fill="#000"/>
<rect x="866" y="674" width="1" height="3" fill="#000"/>
<rect x="962" y="674" width="1" height="3" fill="#000"/>
<rect x="1058" y="674" width="1" height="3" fill="#000"/>
<rect x="1154" y="674" width="1" height="3" fill="#000"/>
<rect x="1250" y="674" width="1" height="3" fill="#000"/>
<polygon points="5,14.5 14,14.5 9.5,9" fill="#000" shape-rendering="geometricPrecision"/>
<rect x="1276" y="2" width="11" height="1" fill="#C0C0C0"/>
<rect x="1277" y="3" width="9" height="1" fill="#C0C0C0"/>
<rect x="1278" y="4" width="7" height="1" fill="#C0C0C0"/>
<rect x="1279" y="5" width="5" height="1" fill="#C0C0C0"/>
<rect x="1280" y="6" width="3" height="1" fill="#C0C0C0"/>
<rect x="1281" y="7" width="1" height="1" fill="#C0C0C0"/>
</svg>
<div id="rborder"><i style="left:0;background:#E4E4E4"></i><i style="left:1px;background:#fff"></i><i style="left:2px;background:#4E4C64"></i><i style="left:3px;background:rgba(255,255,255,0.55)"></i><i style="left:9px;background:rgba(255,255,255,0.45)"></i><i style="left:10px;background:#2C2C3E"></i><i style="left:11px;background:#A6CEFC"></i></div>
<div class="t ttl" style="left:19px;top:5px;"><span style="letter-spacing:0.07px">SP500-,H4</span><span style="position:absolute;left:67px;letter-spacing:0.43px">2482.500 2489.500 2481.750 2487.000</span></div>
<div class="t ax" style="left:1609.5px;top:17.5px;">2814.590</div>
<div class="t ax" style="left:1609.5px;top:66.5px;">2759.340</div>
<div class="t ax" style="left:1609.5px;top:115.6px;">2705.195</div>
<div class="t ax" style="left:1609.5px;top:164.7px;">2651.050</div>
<div class="t ax" style="left:1609.5px;top:213.8px;">2596.905</div>
<div class="t ax" style="left:1609.5px;top:262.8px;">2542.760</div>
<div class="t ax" style="left:1609.5px;top:360.6px;">2433.365</div>
<div class="t ax" style="left:1609.5px;top:409.5px;">2379.220</div>
<div class="t ax" style="left:1609.5px;top:458.6px;">2325.075</div>
<div class="tag" style="top:273px;height:14px;line-height:16px;overflow:hidden;background:#FF0000;color:#fff;">2530.771</div>
<div class="tag" style="top:310px;height:14px;line-height:16px;overflow:hidden;background:#FF0000;color:#fff;border-bottom:2px solid #000;">2490.208</div>
<div class="tag" style="top:391px;height:14px;line-height:16px;overflow:hidden;background:#00FF7F;color:#fff;">2400.662</div>
<div class="tag" style="top:444px;height:14px;line-height:16px;overflow:hidden;background:#0000FF;color:#fff;">2340.834</div>
<div class="t ind" style="left:5px;top:491px;">MACD(12,26,9) -4.1933 -21.4083</div>
<div class="t ind" style="left:5px;top:553px;">RSI(14) 59.5001</div>
<div class="t ax2" style="left:1607px;top:489px;">34.1727</div>
<div class="t ax2" style="left:1607px;top:503px;">0.00</div>
<div class="t ax2" style="left:1607px;top:532px;">-56.0395</div>
<div class="t ax2" style="left:1607px;top:551px;">100</div>
<div class="t ax2" style="left:1605.5px;top:580px;">70</div>
<div class="t ax2" style="left:1605.5px;top:630px;">30</div>
<div class="t ax2" style="left:1607px;top:659px;">0</div>
<div class="t tm" style="left:0.5px;top:678px;">21 Nov 2018</div>
<div class="t tm" style="left:96.5px;top:678px;">23 Nov 04:00</div>
<div class="t tm" style="left:192.5px;top:678px;">27 Nov 04:00</div>
<div class="t tm" style="left:288.5px;top:678px;">29 Nov 04:00</div>
<div class="t tm" style="left:384.5px;top:678px;">3 Dec 00:00</div>
<div class="t tm" style="left:480.5px;top:678px;">5 Dec 00:00</div>
<div class="t tm" style="left:576.5px;top:678px;">7 Dec 04:00</div>
<div class="t tm" style="left:672.5px;top:678px;">11 Dec 00:00</div>
<div class="t tm" style="left:768.5px;top:678px;">13 Dec 00:00</div>
<div class="t tm" style="left:864.5px;top:678px;">16 Dec 23:00</div>
<div class="t tm" style="left:960.5px;top:678px;">18 Dec 20:00</div>
<div class="t tm" style="left:1056.5px;top:678px;">20 Dec 20:00</div>
<div class="t tm" style="left:1152.5px;top:678px;">24 Dec 16:00</div>
<div class="t tm" style="left:1248.5px;top:678px;">27 Dec 16:00</div>
<div id="panel">
 <div class="tab" style="left:5px;top:24px;width:68px;height:28px;"></div>
 <div class="low" style="left:5px;top:51px;width:141px;height:49px;"></div>
 <div class="ltop" style="left:72px;top:51px;width:74px;"></div>
 <div class="sep" style="left:9px;top:50px;width:60px;"></div>
 <div class="tab" style="left:220px;top:24px;width:68px;height:28px;"></div>
 <div class="low" style="left:148px;top:51px;width:140px;height:49px;"></div>
 <div class="ltop" style="left:148px;top:51px;width:73px;"></div>
 <div class="sep" style="left:224px;top:50px;width:61px;"></div>
 <div id="vol" style="left:75px;top:24px;width:143px;height:25px;background:#fff;border:1px solid #A9ABB4;"></div>
 <div class="btn" style="left:76px;top:25px;width:24px;height:23px;border-right:1px solid #A9ABB4;"></div>
 <div class="btn" style="left:193px;top:25px;width:24px;height:23px;border-left:1px solid #A9ABB4;"></div>
 <svg style="position:absolute;left:80px;top:33px" width="16" height="8" shape-rendering="crispEdges"><rect x="4" y="2" width="7" height="1" fill="#5878D8"/><rect x="5" y="3" width="5" height="1" fill="#4C66C0"/><rect x="6" y="4" width="3" height="1" fill="#4050A0"/><rect x="7" y="5" width="1" height="1" fill="#3A4480"/></svg>
 <svg style="position:absolute;left:198px;top:32px" width="16" height="8" shape-rendering="crispEdges"><rect x="7" y="2" width="1" height="1" fill="#4A5CB0"/><rect x="6" y="3" width="3" height="1" fill="#4C62BC"/><rect x="5" y="4" width="5" height="1" fill="#526CCC"/><rect x="4" y="5" width="7" height="1" fill="#5878D8"/></svg>
 <div class="pt" style="left:159px;top:28px;font-size:14px;line-height:18px;color:#000;letter-spacing:1.2px;">1.00</div>
 <div class="pt sx" style="left:21px;top:29px;font-size:15.5px;line-height:18px;transform:scaleX(0.93);">SELL</div>
 <div class="pt sx" style="left:238.5px;top:29px;font-size:15.5px;line-height:18px;transform:scaleX(0.95);">BUY</div>
 <div class="pt" style="left:25.5px;top:75px;font-size:16px;line-height:18px;font-weight:bold;letter-spacing:0.6px;">2486</div>
 <div class="pt" style="left:64.5px;top:51px;font-size:43px;line-height:48px;letter-spacing:-1.5px;-webkit-text-stroke:0.5px #C51A1A;">98</div>
 <div class="pt" style="left:115px;top:56px;font-size:15px;line-height:18px;font-weight:bold;">5</div>
 <div class="pt" style="left:167.5px;top:75px;font-size:16px;line-height:18px;font-weight:bold;letter-spacing:0.6px;">2487</div>
 <div class="pt" style="left:207.5px;top:51px;font-size:43px;line-height:48px;letter-spacing:-1.5px;-webkit-text-stroke:0.5px #C51A1A;">76</div>
 <div class="pt" style="left:258px;top:56px;font-size:15px;line-height:18px;font-weight:bold;">5</div>
</div>

</div>
</body></html>
